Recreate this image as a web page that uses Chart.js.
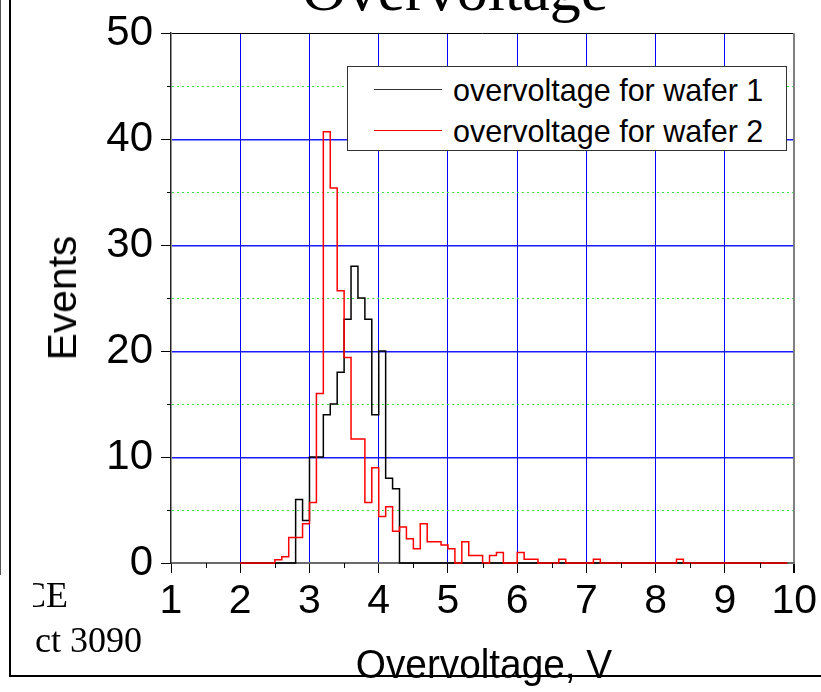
<!DOCTYPE html>
<html lang="en">
<head>
    <meta charset="UTF-8">
    <title>Overvoltage</title>
    <script src="https://cdn.jsdelivr.net/npm/chart.js"></script>
    <style>
        body { margin: 0; background: #fff; }
        .page { position: relative; width: 821px; height: 692px; overflow: hidden; background: #fff; }
        canvas { position: absolute; left: 0; top: 0; }
        .abs { position: absolute; white-space: nowrap; line-height: 1; }
        .sans { font-family: "Liberation Sans", Arial, sans-serif; color: #000; }
        .serif { font-family: "Liberation Serif", "Times New Roman", serif; color: #000; }
        .legend { position: absolute; left: 347px; top: 66px; width: 438px; height: 83px; background: #fff; border: 1.5px solid #333; }
        .legend .swatch { position: absolute; left: 26px; width: 68px; height: 1px; }
    </style>
</head>
<body>
<div class="page">
    <canvas id="chart" width="821" height="692"></canvas>

    <!-- frame around the slide -->
    <div class="abs" style="left:0; top:0; width:1px; height:575px; background:#555;"></div>
    <div class="abs" style="left:9px; top:0; width:2px; height:677px; background:#000;"></div>
    <div class="abs" style="left:9px; top:675px; width:812px; height:2px; background:#000;"></div>

    <div class="abs serif" style="left:455px; top:-42px; font-size:62px; transform:translateX(-50%);">Overvoltage</div>
    <div class="abs sans" style="left:62px; top:298px; font-size:40px; transform:translate(-50%,-50%) rotate(-90deg) scaleX(1.02);">Events</div>
    <div class="abs sans" style="left:484px; top:644px; font-size:41px; transform:translateX(-50%) scaleX(0.945);">Overvoltage, V</div>

    <div class="abs" style="left:33px; top:570px; width:130px; height:95px; overflow:hidden;">
        <div class="abs serif" style="left:-11px; top:7px; font-size:36px;">CE</div>
        <div class="abs serif" style="left:2px; top:52px; font-size:36px;">ct 3090</div>
    </div>

    <div class="legend">
        <div class="swatch" style="top:22px; background:#333;"></div>
        <div class="abs sans" style="left:105px; top:8px; font-size:30.5px;">overvoltage for wafer 1</div>
        <div class="swatch" style="top:63px; background:#ff0000;"></div>
        <div class="abs sans" style="left:105px; top:49px; font-size:30.5px;">overvoltage for wafer 2</div>
    </div>
</div>

<script>
    // histogram bins: left edge of each step (last entry closes the range) and height
    const blackEdges = [2.0, 2.8, 2.9, 3.0, 3.2, 3.3, 3.4, 3.5, 3.6, 3.7, 3.8, 3.9, 4.0, 4.1, 4.2, 4.3, 9.9];
    const blackEvents = [0, 6, 4, 10, 14, 15, 18, 23, 28, 25, 23, 14, 20, 8, 7, 0, 0];

    const redEdges = [2.0, 2.5, 2.6, 2.7, 2.9, 3.0, 3.1, 3.2, 3.3, 3.4, 3.5, 3.6, 3.8, 3.9, 4.0,
                      4.1, 4.2, 4.3, 4.4, 4.5, 4.6, 4.7, 4.9, 5.0, 5.1, 5.2, 5.3, 5.5, 5.6, 5.7,
                      5.8, 6.0, 6.1, 6.3, 6.6, 6.7, 7.1, 7.2, 8.3, 8.4, 9.9];
    const redEvents = [0, 0.3, 0.6, 2.4, 3.7, 5.7, 16, 40.7, 35.4, 25.7, 19.4, 11.7, 5.7, 9.0, 4.4,
                       5.3, 3.0, 3.4, 2.3, 1.35, 3.7, 2.0, 1.7, 1.35, 0, 2.0, 0.7, 0, 0.7, 1.0,
                       0, 1.0, 0.35, 0, 0.35, 0, 0.35, 0, 0.35, 0, 0];

    const xTickLabels = [1, 2, 3, 4, 5, 6, 7, 8, 9, 10];
    const yTickLabels = [0, 10, 20, 30, 40, 50];
    const xMinorTicks = [1.5, 2.5, 3.5, 4.5, 5.5, 6.5, 7.5, 8.5, 9.5];
    const yMinorTicks = [5, 15, 25, 35, 45];

    const toPoints = (xs, ys) => xs.map((x, i) => ({ x: x, y: ys[i] }));

    // horizontal grid: blue at the labelled values, dotted green in between, black frame on top
    const hGrid = {
        id: 'hGrid',
        beforeDatasetsDraw(chart) {
            const ctx = chart.ctx, xs = chart.scales.x, ys = chart.scales.y;
            const line = (v, color, dash, width, shift) => {
                const y = Math.round(ys.getPixelForValue(v)) + shift;
                ctx.strokeStyle = color;
                ctx.lineWidth = width;
                ctx.setLineDash(dash);
                ctx.beginPath();
                ctx.moveTo(xs.left + 1, y); ctx.lineTo(xs.right - 1, y);
                ctx.stroke();
            };
            ctx.save();
            yMinorTicks.forEach(v => line(v, '#44dd44', [2, 3], 1, 0.5));
            yTickLabels.forEach(v => {
                if (v === 50) line(v, '#000000', [], 1, 0.5);
                else if (v > 0) line(v, '#1a1aff', [], 1.4, 0.7);
            });
            ctx.restore();
        },
        // short ticks between the labelled ones
        afterDraw(chart) {
            const ctx = chart.ctx, xs = chart.scales.x, ys = chart.scales.y;
            ctx.save();
            ctx.strokeStyle = '#000';
            ctx.lineWidth = 1;
            ctx.beginPath();
            yMinorTicks.forEach(v => {
                const y = Math.round(ys.getPixelForValue(v)) + 0.5;
                ctx.moveTo(xs.left - 4, y); ctx.lineTo(xs.left, y);
            });
            xMinorTicks.forEach(v => {
                const x = Math.round(xs.getPixelForValue(v)) + 0.5;
                ctx.moveTo(x, ys.bottom); ctx.lineTo(x, ys.bottom + 5);
            });
            ctx.stroke();
            ctx.restore();
        }
    };

    const tickFont = { family: '"Liberation Sans", Arial, sans-serif', size: 41 };

    new Chart(document.getElementById('chart'), {
        type: 'line',
        data: {
            datasets: [{
                label: 'overvoltage for wafer 1',
                data: toPoints(blackEdges, blackEvents),
                borderColor: '#000000',
                borderWidth: 1.5,
                stepped: true,
                pointRadius: 0,
                clip: false,
                order: 1
            }, {
                label: 'overvoltage for wafer 2',
                data: toPoints(redEdges, redEvents),
                borderColor: '#ff0000',
                borderWidth: 1.5,
                stepped: true,
                pointRadius: 0,
                clip: false,
                order: 0
            }]
        },
        options: {
            responsive: false,
            animation: false,
            events: [],
            layout: { padding: { left: 0, top: 31, right: 24, bottom: 0 } },
            plugins: { legend: { display: false }, tooltip: { enabled: false } },
            scales: {
                x: {
                    type: 'linear',
                    min: 1, max: 10,
                    afterFit: s => { s.height = 129; },
                    ticks: {
                        stepSize: 1,
                        padding: 4,
                        color: '#000',
                        font: tickFont,
                        maxRotation: 0,
                        callback: v => xTickLabels.includes(v) ? String(v) : ''
                    },
                    grid: {
                        tickLength: 10,
                        tickColor: '#000',
                        color: c => c.tick.value === 1 ? 'rgba(0,0,0,0)' : (c.tick.value === 10 ? '#808080' : '#0000ff'),
                        lineWidth: c => c.tick.value === 10 ? 2 : 1
                    },
                    border: { color: '#6a6a6a', width: 2 }
                },
                y: {
                    min: 0, max: 50,
                    afterFit: s => { s.width = 171; },
                    ticks: {
                        stepSize: 10,
                        padding: 8,
                        color: '#000',
                        font: { family: '"Liberation Sans", Arial, sans-serif', size: 42 },
                        callback: v => yTickLabels.includes(v) ? String(v) : ''
                    },
                    grid: {
                        drawOnChartArea: false,
                        tickLength: 10,
                        tickColor: '#000'
                    },
                    border: { color: '#222', width: 1.5 }
                }
            }
        },
        plugins: [hGrid]
    });
</script>
</body>
</html>
